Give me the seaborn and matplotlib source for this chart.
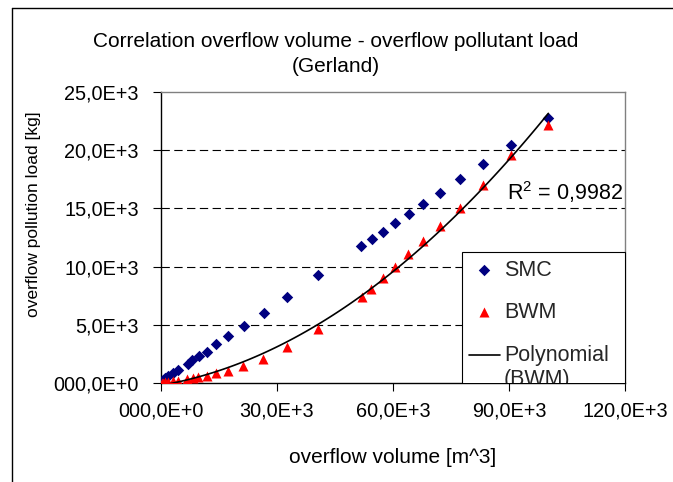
import matplotlib
matplotlib.use("Agg")
import matplotlib.pyplot as plt
import seaborn as sns
import pandas as pd
import numpy as np
from matplotlib.lines import Line2D
from matplotlib.legend_handler import HandlerLine2D
from matplotlib.transforms import Bbox, TransformedBbox

# ---- data ----
smc_volume = [150, 600, 1030, 1890, 3190, 4480, 6900, 8100, 9750, 11810, 14220,
              17450, 21550, 26600, 32500, 40650, 51800, 54480, 57450, 60450,
              64100, 67840, 72160, 77330, 83190, 90440, 100170]
smc_load = [110, 260, 400, 600, 860, 1150, 1670, 1950, 2320, 2690, 3330,
            4040, 4925, 6040, 7415, 9280, 11730, 12345, 12980, 13720,
            14490, 15400, 16300, 17500, 18815, 20450, 22740]

bwm_volume = [150, 600, 1030, 1890, 3190, 4480, 6700, 8150, 9650, 11900, 14220,
              17400, 21300, 26500, 32600, 40600, 51900, 54350, 57400, 60400,
              64000, 67840, 72160, 77330, 83190, 90440, 100170]
bwm_load = [15, 40, 70, 110, 150, 200, 320, 400, 490, 600, 830,
            1060, 1470, 2090, 3100, 4600, 7360, 8100, 8995, 9950,
            11050, 12180, 13500, 15000, 17000, 19550, 22200]

x_ticks = [0, 30000, 60000, 90000, 120000]
x_tick_labels = ["000,0E+0", "30,0E+3", "60,0E+3", "90,0E+3", "120,0E+3"]
y_ticks = [0, 5000, 10000, 15000, 20000, 25000]
y_tick_labels = ["000,0E+0", "5,0E+3", "10,0E+3", "15,0E+3", "20,0E+3", "25,0E+3"]

title = "Correlation overflow volume - overflow pollutant load\n(Gerland)"
x_label = "overflow volume [m^3]"
y_label = "overflow pollution load [kg]"
r2_text = r"R$^2$ = 0,9982"
series_labels = ["SMC", "BWM", "Polynomial\n(BWM)"]

sns.set_theme(style="white")
plt.rcParams["font.family"] = ["Liberation Sans", "DejaVu Sans"]
plt.rcParams["mathtext.fontset"] = "custom"
plt.rcParams["mathtext.rm"] = "Liberation Sans"
plt.rcParams["mathtext.it"] = "Liberation Sans"
FS_TICK = 14.3
FS_TITLE = 15
FS_XLABEL = 15
FS_YLABEL = 12.5
FS_LEG = 15.5

smc_df = pd.DataFrame({"volume": smc_volume, "load": smc_load})
bwm_df = pd.DataFrame({"volume": bwm_volume, "load": bwm_load})

fig = plt.figure(figsize=(6.73, 4.82), dpi=100)
ax = fig.add_axes([161 / 673, 1 - 383 / 482, 464 / 673, 291 / 482])

sns.scatterplot(data=smc_df, x="volume", y="load", ax=ax, marker="D",
                color="#000080", s=34, linewidth=0, label=series_labels[0], zorder=3)
sns.scatterplot(data=bwm_df, x="volume", y="load", ax=ax, marker="^",
                color="#FF0000", s=52, linewidth=0, label=series_labels[1], zorder=3)
sns.regplot(data=bwm_df, x="volume", y="load", ax=ax, order=2, ci=None,
            scatter=False, truncate=True, label=series_labels[2],
            line_kws={"color": "black", "linewidth": 1.2, "zorder": 4})

ax.set_xlim(0, 120000)
ax.set_ylim(0, 25000)
ax.set_xticks(x_ticks)
ax.set_xticklabels(x_tick_labels, fontsize=FS_TICK)
ax.set_yticks(y_ticks)
ax.set_yticklabels(y_tick_labels, fontsize=FS_TICK)
ax.tick_params(axis="both", direction="out", length=6, width=0.8,
               color="black", labelcolor="black")
ax.tick_params(axis="x", bottom=True, pad=7)
ax.tick_params(axis="y", left=True, pad=10)

ax.set_xlabel(x_label, fontsize=FS_XLABEL, color="black", labelpad=20)
ax.set_ylabel(y_label, fontsize=FS_YLABEL, color="black")
ax.yaxis.set_label_coords(-0.259, 0.58)

ax.grid(False)
for yv in y_ticks[1:-1]:
    ax.axhline(yv, color="black", linewidth=0.8, linestyle=(0, (7.5, 4)), zorder=1)

for side in ["left", "bottom"]:
    ax.spines[side].set_color("black")
    ax.spines[side].set_linewidth(1.0)
for side in ["top", "right"]:
    ax.spines[side].set_color("#808080")
    ax.spines[side].set_linewidth(1.0)
    ax.spines[side].set_visible(True)

ax.text(0.996, 0.657, r2_text, transform=ax.transAxes, ha="right",
        va="center", fontsize=FS_LEG, color="black")

fig.text(0.4985, 1 - 32 / 482, title, ha="center", va="top", fontsize=FS_TITLE,
         linespacing=1.4, color="black")


class FirstLineHandler(HandlerLine2D):
    """Align the line handle with the first line of a two-line label."""
    def create_artists(self, legend, orig_handle, xdescent, ydescent,
                       width, height, fontsize, trans):
        artists = super().create_artists(legend, orig_handle, xdescent, ydescent,
                                         width, height, fontsize, trans)
        for a in artists:
            a.set_ydata(np.asarray(a.get_ydata()) + 0.6 * fontsize)
        return artists


handles, labels = ax.get_legend_handles_labels()
leg = ax.legend(handles, labels, loc="upper left",
                bbox_to_anchor=(0.648, 0, 0.352, 0.451), mode="expand",
                borderaxespad=0, fontsize=FS_LEG, frameon=True, fancybox=False,
                edgecolor="black", framealpha=1, borderpad=0.36,
                labelspacing=1.0, handlelength=1.4, handletextpad=0.2,
                scatterpoints=1, handler_map={handles[2]: FirstLineHandler()})
leg.get_frame().set_linewidth(0.8)
clip = TransformedBbox(Bbox([[0, 0], [1.01, 1.01]]), ax.transAxes)
leg.legendPatch.set_clip_box(clip)
leg.legendPatch.set_clip_on(True)
for t in leg.get_texts():
    t.set_clip_box(clip)
    t.set_clip_on(True)

# outer chart frame (left and top edges)
fig.add_artist(Line2D([12 / 673, 12 / 673], [0, 1 - 7.5 / 482],
                      transform=fig.transFigure, color="black", linewidth=1.0))
fig.add_artist(Line2D([12 / 673, 1], [1 - 7.5 / 482, 1 - 7.5 / 482],
                      transform=fig.transFigure, color="black", linewidth=1.0))

fig.savefig("out.png", dpi=100, facecolor="white")
